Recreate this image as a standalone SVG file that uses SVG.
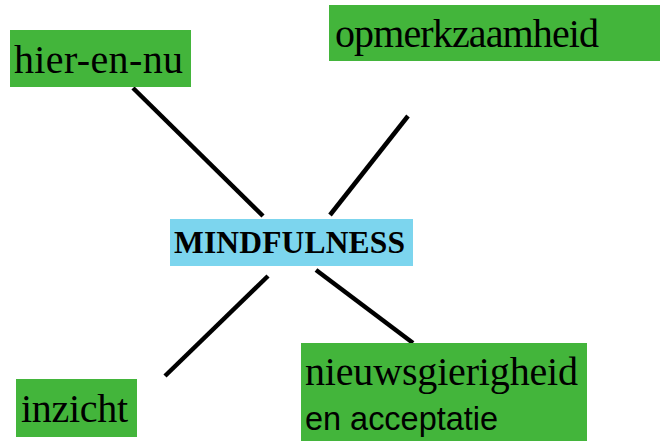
<svg xmlns="http://www.w3.org/2000/svg" width="660" height="441" viewBox="0 0 660 441">
<style>
.box{fill:#43b53b}
.t{font-family:"Liberation Serif","Times New Roman",serif;font-size:40px;fill:#000}
.s{font-family:"Liberation Sans",Arial,sans-serif;font-size:32.5px;fill:#000}
.c line{stroke:#000;stroke-width:4.5}
</style>
<rect width="660" height="441" fill="#fff"/>
<g class="c" id="connectors">
<line x1="133" y1="88" x2="263" y2="216"/>
<line x1="408" y1="116" x2="330" y2="215"/>
<line x1="268" y1="276" x2="165" y2="376"/>
<line x1="316" y1="270" x2="413" y2="343"/>
</g>
<g id="hier">
<rect class="box" x="10" y="30" width="181" height="57"/>
<text class="t" x="14" y="73" textLength="169">hier-en-nu</text>
</g>
<g id="opmerkzaamheid">
<rect class="box" x="329" y="5" width="331" height="56"/>
<text class="t" x="335" y="47" textLength="264">opmerkzaamheid</text>
</g>
<g id="mindfulness">
<rect x="170" y="219" width="243" height="47" fill="#7cd5ee"/>
<text x="174" y="253" font-family="Liberation Serif,'Times New Roman',serif" font-weight="bold" font-size="31.5" textLength="231">MINDFULNESS</text>
</g>
<g id="nieuwsgierigheid">
<rect class="box" x="301" y="343" width="286" height="98"/>
<text class="t" x="305" y="385" textLength="273">nieuwsgierigheid</text>
<text class="s" x="305" y="430" textLength="193">en acceptatie</text>
</g>
<g id="inzicht">
<rect class="box" x="16" y="379" width="121" height="58"/>
<text class="t" x="21" y="422" textLength="107">inzicht</text>
</g>
</svg>
